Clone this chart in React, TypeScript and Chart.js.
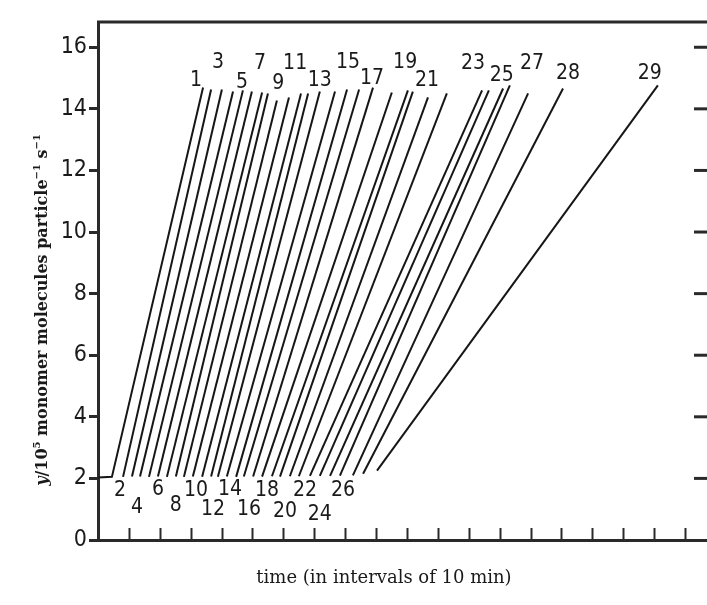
import { useEffect, useRef } from 'react';
import { Chart, registerables } from 'chart.js';

Chart.register(...registerables);

// ---- data (time in 10-min intervals, y in 10^5 monomer molecules per particle per s) ----
const lineNumbers = [1, 2, 3, 4, 5, 6, 7, 8, 9, 10, 11, 12, 13, 14, 15, 16, 17, 18, 19, 20, 21, 22, 23, 24, 25, 26, 27, 28, 29];
const startX = [0.45, 0.81, 1.10, 1.36, 1.65, 1.94, 2.23, 2.52, 2.78, 3.07, 3.37, 3.66, 3.88, 4.17, 4.47, 4.72, 5.02, 5.31, 5.63, 5.89, 6.21, 6.50, 6.86, 7.18, 7.51, 7.83, 8.25, 8.58, 9.03];
const startY = [2.05, 2.05, 2.06, 2.06, 2.05, 2.06, 2.05, 2.06, 2.05, 2.06, 2.05, 2.06, 2.05, 2.06, 2.05, 2.06, 2.06, 2.06, 2.07, 2.06, 2.07, 2.07, 2.08, 2.08, 2.08, 2.09, 2.1, 2.15, 2.25];
const endX = [3.40, 3.66, 4.01, 4.37, 4.69, 4.98, 5.31, 5.50, 5.79, 6.18, 6.57, 6.80, 7.18, 7.67, 8.06, 8.45, 8.90, 9.51, 10.03, 10.19, 10.68, 11.29, 12.43, 12.65, 13.11, 13.33, 13.92, 15.05, 18.12];
const endY = [14.69, 14.63, 14.63, 14.56, 14.6, 14.56, 14.53, 14.5, 14.27, 14.37, 14.5, 14.5, 14.56, 14.56, 14.63, 14.63, 14.69, 14.53, 14.6, 14.56, 14.37, 14.5, 14.6, 14.6, 14.66, 14.76, 14.5, 14.66, 14.76];
const line1Origin = [0, 2.03];

const topLabelText = ['1', '3', '5', '7', '9', '11', '13', '15', '17', '19', '21', '23', '25', '27', '28', '29'];
const topLabelX = [3.17, 3.88, 4.66, 5.24, 5.83, 6.38, 7.18, 8.09, 8.87, 9.94, 10.65, 12.14, 13.07, 14.05, 15.21, 17.86];
const topLabelY = [14.92, 15.5, 14.85, 15.47, 14.82, 15.47, 14.92, 15.5, 14.98, 15.5, 14.92, 15.47, 15.08, 15.47, 15.15, 15.15];

const bottomLabelText = ['2', '4', '6', '8', '10', '12', '14', '16', '18', '20', '22', '24', '26'];
const bottomLabelX = [0.71, 1.26, 1.94, 2.52, 3.17, 3.72, 4.27, 4.89, 5.47, 6.05, 6.70, 7.18, 7.93];
const bottomLabelY = [1.59, 1.07, 1.65, 1.13, 1.59, 1.0, 1.65, 1.0, 1.59, 0.94, 1.59, 0.84, 1.59];

const xTickValues = [1, 2, 3, 4, 5, 6, 7, 8, 9, 10, 11, 12, 13, 14, 15, 16, 17, 18, 19];
const yTickValues = [2, 4, 6, 8, 10, 12, 14, 16];

const X_MAX = 19.71;
const Y_MAX = 16.82;

const NARROW = "'Liberation Sans Narrow', 'DejaVu Sans Condensed', 'Roboto', sans-serif";
const SERIF = "'DejaVu Serif', 'Liberation Serif', serif";
const INK = '#161616';
const AXIS = '#2a2a2a';

const annotate = {
  id: 'annotate',
  afterDraw(chart: any) {
    const { ctx, chartArea, scales } = chart;
    const xs = scales.x;
    const ys = scales.y;
    ctx.save();
    // top frame line
    ctx.strokeStyle = AXIS;
    ctx.lineWidth = 3;
    ctx.beginPath();
    ctx.moveTo(chartArea.left - 1, chartArea.top);
    ctx.lineTo(chartArea.right, chartArea.top);
    ctx.stroke();
    // inward x ticks
    ctx.lineWidth = 2;
    xTickValues.forEach((v) => {
      const px = Math.round(xs.getPixelForValue(v)) + 0.5;
      ctx.beginPath();
      ctx.moveTo(px, chartArea.bottom);
      ctx.lineTo(px, chartArea.bottom - 12);
      ctx.stroke();
    });
    // right-side inward y ticks
    ctx.lineWidth = 3;
    yTickValues.forEach((v) => {
      const py = ys.getPixelForValue(v);
      ctx.beginPath();
      ctx.moveTo(chartArea.right - 13, py);
      ctx.lineTo(chartArea.right, py);
      ctx.stroke();
    });
    // line numbers
    ctx.fillStyle = '#1a1a1a';
    ctx.font = `21px ${NARROW}`;
    ctx.textAlign = 'center';
    ctx.textBaseline = 'middle';
    topLabelText.forEach((t, i) => {
      ctx.fillText(t, xs.getPixelForValue(topLabelX[i]), ys.getPixelForValue(topLabelY[i]));
    });
    bottomLabelText.forEach((t, i) => {
      ctx.fillText(t, xs.getPixelForValue(bottomLabelX[i]), ys.getPixelForValue(bottomLabelY[i]));
    });
    // x title
    ctx.font = `18px ${SERIF}`;
    ctx.fillStyle = '#1a1a1a';
    ctx.fillText('time (in intervals of 10 min)', 384, 578);
    // y title (rotated, rich text)
    const segs = [
      { t: 'y', f: `italic bold 16px ${SERIF}`, sup: false },
      { t: '/10', f: `bold 16px ${SERIF}`, sup: false },
      { t: '5', f: `bold 10px ${SERIF}`, sup: true },
      { t: ' monomer molecules particle', f: `bold 16px ${SERIF}`, sup: false },
      { t: '−1', f: `bold 10px ${SERIF}`, sup: true },
      { t: ' s', f: `bold 16px ${SERIF}`, sup: false },
      { t: '−1', f: `bold 10px ${SERIF}`, sup: true },
    ];
    ctx.translate(43, 310);
    ctx.rotate(-Math.PI / 2);
    ctx.textAlign = 'left';
    let total = 0;
    segs.forEach((s) => { ctx.font = s.f; total += ctx.measureText(s.t).width; });
    let cx = -total / 2;
    segs.forEach((s) => {
      ctx.font = s.f;
      ctx.fillText(s.t, cx, s.sup ? -6 : 0);
      cx += ctx.measureText(s.t).width;
    });
    ctx.restore();
  },
};

export default function App() {
  const ref = useRef<HTMLCanvasElement>(null);
  useEffect(() => {
    document.body.style.margin = '0';
    const datasets = lineNumbers.map((n, i) => {
      const pts = [
        { x: startX[i], y: startY[i] },
        { x: endX[i], y: endY[i] },
      ];
      if (n === 1) pts.unshift({ x: line1Origin[0], y: line1Origin[1] });
      return {
        label: String(n),
        data: pts,
        showLine: true,
        borderColor: INK,
        borderWidth: 2,
        pointRadius: 0,
        fill: false,
      };
    });
    const chart = new Chart(ref.current as HTMLCanvasElement, {
      type: 'scatter',
      data: { datasets },
      options: {
        responsive: false,
        animation: false,
        layout: { padding: { top: 22, right: 0, bottom: 0, left: 0 } },
        plugins: { legend: { display: false }, tooltip: { enabled: false } },
        scales: {
          x: {
            type: 'linear',
            min: 0,
            max: X_MAX,
            ticks: { display: false },
            grid: { display: false },
            border: { display: true, color: AXIS, width: 3 },
            afterFit: (s: any) => { s.height = 65; },
          },
          y: {
            type: 'linear',
            min: 0,
            max: Y_MAX,
            ticks: { stepSize: 2, includeBounds: false, color: '#1a1a1a', padding: 2, font: { family: NARROW, size: 23 } },
            grid: { display: true, drawOnChartArea: false, drawTicks: true, tickLength: 9, color: AXIS, lineWidth: 3 },
            border: { display: true, color: AXIS, width: 3 },
            afterFit: (s: any) => { s.width = 98; },
          },
        },
      },
      plugins: [annotate],
    });
    return () => chart.destroy();
  }, []);
  return (
    <div style={{ width: 707, height: 605, background: '#fff' }}>
      <canvas ref={ref} width={707} height={605} style={{ display: 'block' }} />
    </div>
  );
}
